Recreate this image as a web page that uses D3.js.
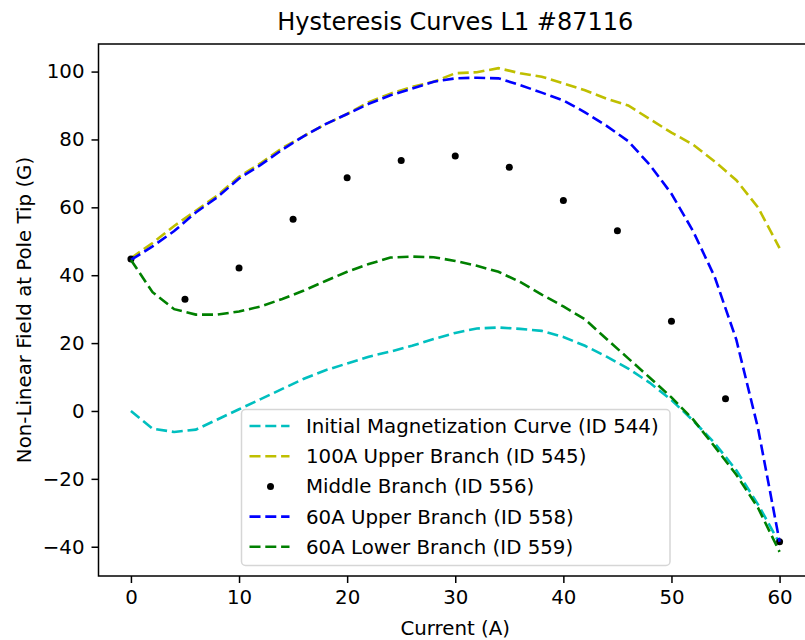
<!DOCTYPE html>
<html>
<head>
<meta charset="utf-8">
<script src="https://cdn.jsdelivr.net/npm/d3@7"></script>
<style>
  body { margin: 0; background: #fff; }
  svg text { font-family: "DejaVu Sans", sans-serif; fill: #000; }
</style>
</head>
<body>
<div id="chart"></div>
<script>
// currents sampled along each curve (A)
const currents = [0, 2, 4, 6, 8, 10, 12, 14, 16, 18, 20, 22, 24, 26, 28, 30,
  32, 34, 36, 38, 40, 42, 44, 46, 48, 50, 52, 54, 56, 58, 60];

const initialCurve = [0, -5.2, -6.2, -5.5, -2.5, 0.5, 3.5, 6.5, 9.5, 12, 14, 16, 17.5, 19.2, 21.2, 23,
  24.3, 24.6, 24.2, 23.6, 21.8, 19.2, 16, 12.5, 8.3, 3.2, -2.8, -9.5, -17.5, -27.5, -39];

const upper100A = [45, 49.5, 54.5, 59, 63.5, 69, 73, 77.5, 81, 84.5, 87.5, 91, 93.5, 95.5, 97, 99.5,
  99.8, 101, 99.5, 98.5, 96.5, 94.5, 92, 90, 86, 82, 78.5, 73.5, 68, 60, 48];

const upper60A = [44.5, 48.5, 53, 58.5, 63, 68.5, 72.5, 77, 81, 84.5, 87.5, 90.5, 93, 95, 97, 98,
  98.2, 98, 96, 93.8, 91.5, 88, 84, 79.5, 72.5, 64, 53, 39.5, 21, -5, -38.5];

const lower60A = [44.5, 35, 30, 28.4, 28.4, 29.3, 30.8, 33, 35.5, 38.3, 41, 43.3, 45.2, 45.5, 45.3, 44.2,
  42.8, 41, 38, 34.3, 30.8, 27, 21.2, 15.5, 9.8, 4, -2.5, -10.5, -18.8, -28.5, -41.5];

// middle branch measured points
const middleCurrents = [0, 5, 10, 15, 20, 25, 30, 35, 40, 45, 50, 55, 60];
const middleField = [44.8, 32.9, 42.1, 56.5, 68.7, 73.8, 75.1, 71.8, 62, 53.1, 26.4, 3.6, -38.5];

const xTicks = [0, 10, 20, 30, 40, 50, 60];
const yTicks = [-40, -20, 0, 20, 40, 60, 80, 100];

const series = [
  { name: "Initial Magnetization Curve (ID 544)", values: initialCurve, color: "#00bfbf", type: "line" },
  { name: "100A Upper Branch (ID 545)", values: upper100A, color: "#bfbf00", type: "line" },
  { name: "Middle Branch (ID 556)", color: "#000", type: "dot" },
  { name: "60A Upper Branch (ID 558)", values: upper60A, color: "#0000ff", type: "line" },
  { name: "60A Lower Branch (ID 559)", values: lower60A, color: "#008000", type: "line" }
];

const width = 805, height = 640;
const plot = { left: 98.5, top: 44, right: 812, bottom: 576 };
const fontSize = 19.8;
const dash = "11,4.8";
const lineW = 2.6;

const svg = d3.select("#chart").append("svg")
  .attr("width", width)
  .attr("height", height);

// matplotlib style 5% margins
const pad = (ext) => { const d = (ext[1] - ext[0]) * 0.05; return [ext[0] - d, ext[1] + d]; };
const allY = [].concat(initialCurve, upper100A, upper60A, lower60A, middleField);

const x = d3.scaleLinear().domain(pad(d3.extent(currents))).range([plot.left, plot.right]);
const y = d3.scaleLinear().domain(pad(d3.extent(allY))).range([plot.bottom, plot.top]);

svg.append("clipPath").attr("id", "clip")
  .append("rect")
  .attr("x", plot.left).attr("y", plot.top)
  .attr("width", plot.right - plot.left).attr("height", plot.bottom - plot.top);

const g = svg.append("g").attr("clip-path", "url(#clip)");

const line = d3.line()
  .x(d => x(d[0]))
  .y(d => y(d[1]));

series.forEach(s => {
  if (s.type === "line") {
    g.append("path")
      .datum(currents.map((c, i) => [c, s.values[i]]))
      .attr("d", line)
      .attr("fill", "none")
      .attr("stroke", s.color)
      .attr("stroke-width", lineW)
      .attr("stroke-dasharray", dash);
  } else {
    g.selectAll("circle.mid")
      .data(middleCurrents.map((c, i) => [c, middleField[i]]))
      .enter()
      .append("circle")
      .attr("class", "mid")
      .attr("cx", d => x(d[0]))
      .attr("cy", d => y(d[1]))
      .attr("r", 3.5)
      .attr("fill", s.color);
  }
});

// axes
const xAxis = d3.axisBottom(x).tickValues(xTicks).tickSize(7).tickPadding(7);
const yAxis = d3.axisLeft(y).tickValues(yTicks).tickSize(7).tickPadding(7)
  .tickFormat(d => d < 0 ? "\u2212" + Math.abs(d) : d);

svg.append("g")
  .attr("transform", `translate(0,${plot.bottom})`)
  .call(xAxis)
  .call(a => a.select(".domain").remove());

svg.append("g")
  .attr("transform", `translate(${plot.left},0)`)
  .call(yAxis)
  .call(a => a.select(".domain").remove());

svg.selectAll(".tick text").attr("font-size", fontSize).attr("font-family", "DejaVu Sans");
svg.selectAll(".tick line").attr("stroke-width", 1.5);

svg.append("rect")
  .attr("x", plot.left).attr("y", plot.top)
  .attr("width", plot.right - plot.left).attr("height", plot.bottom - plot.top)
  .attr("fill", "none")
  .attr("stroke", "#000")
  .attr("stroke-width", 1.5);

// labels
svg.append("text")
  .attr("x", (plot.left + plot.right) / 2)
  .attr("y", 29.5)
  .attr("text-anchor", "middle")
  .attr("font-size", 24)
  .text("Hysteresis Curves L1 #87116");

svg.append("text")
  .attr("x", (plot.left + plot.right) / 2)
  .attr("y", 635)
  .attr("text-anchor", "middle")
  .attr("font-size", fontSize)
  .text("Current (A)");

svg.append("text")
  .attr("transform", `translate(30.5,${(plot.top + plot.bottom) / 2}) rotate(-90)`)
  .attr("text-anchor", "middle")
  .attr("font-size", fontSize)
  .text("Non-Linear Field at Pole Tip (G)");

// legend
const legend = svg.append("g").attr("transform", "translate(241.5,409.5)");
legend.append("rect")
  .attr("width", 428.5)
  .attr("height", 156)
  .attr("rx", 4)
  .attr("fill", "#fff")
  .attr("fill-opacity", 0.8)
  .attr("stroke", "#d6d6d6")
  .attr("stroke-width", 1.5);

const rows = legend.selectAll("g.row")
  .data(series)
  .enter()
  .append("g")
  .attr("class", "row")
  .attr("transform", (d, i) => `translate(0,${16.5 + i * 30.2})`);

rows.each(function(d) {
  const r = d3.select(this);
  if (d.type === "line") {
    r.append("line")
      .attr("x1", 8).attr("x2", 48)
      .attr("stroke", d.color)
      .attr("stroke-width", lineW)
      .attr("stroke-dasharray", dash);
  } else {
    r.append("circle").attr("cx", 29).attr("r", 3.5).attr("fill", d.color);
  }
  r.append("text")
    .attr("x", 64.5)
    .attr("dy", "0.35em")
    .attr("font-size", fontSize)
    .text(d.name);
});
</script>
</body>
</html>
